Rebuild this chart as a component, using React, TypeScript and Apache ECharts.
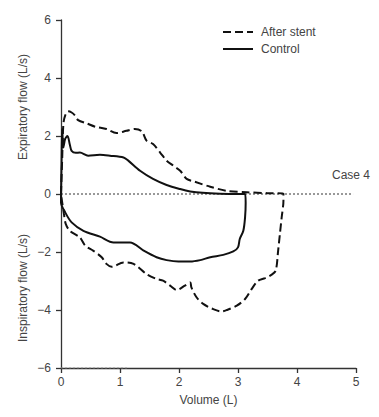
import React, { useEffect, useRef } from "react";
import * as echarts from "echarts";

const xTicks = [0, 1, 2, 3, 4, 5];
const yTicks = [-6, -4, -2, 0, 2, 4, 6];

// Control loop (solid): [volume L, flow L/s]
const controlVolume = [0, 0.01, 0.02, 0.04, 0.07, 0.11, 0.15, 0.18, 0.25, 0.32, 0.46, 0.66, 0.83, 1.06, 1.14, 1.34, 1.56, 1.79, 2.02, 2.19, 2.4, 2.7, 3.0, 3.12, 3.13, 3.12, 3.09, 3.03, 3.0, 2.92, 2.75, 2.53, 2.36, 2.19, 1.99, 1.79, 1.62, 1.4, 1.17, 0.89, 0.66, 0.38, 0.18, 0.07, 0.0, 0];
const controlFlow = [0, 1.2, 2.25, 1.6, 1.9, 2.0, 1.7, 1.49, 1.42, 1.43, 1.32, 1.35, 1.32, 1.26, 1.15, 0.8, 0.52, 0.31, 0.17, 0.09, 0.04, 0.01, 0.0, 0.0, -0.3, -0.8, -1.27, -1.55, -1.84, -1.98, -2.1, -2.18, -2.28, -2.33, -2.33, -2.28, -2.18, -1.95, -1.67, -1.67, -1.47, -1.27, -0.98, -0.63, -0.29, 0];

// After stent loop (dashed)
const stentVolume = [0, 0.02, 0.04, 0.07, 0.12, 0.18, 0.24, 0.29, 0.44, 0.58, 0.77, 0.94, 1.11, 1.25, 1.37, 1.45, 1.56, 1.68, 1.79, 1.9, 2.02, 2.13, 2.27, 2.53, 2.81, 3.15, 3.5, 3.77, 3.77, 3.74, 3.71, 3.68, 3.64, 3.57, 3.46, 3.34, 3.23, 3.12, 2.98, 2.81, 2.72, 2.58, 2.41, 2.3, 2.21, 2.19, 2.1, 1.96, 1.85, 1.73, 1.62, 1.45, 1.23, 1.06, 0.86, 0.77, 0.69, 0.55, 0.41, 0.32, 0.15, 0.08, 0.05, 0.02, 0];
const stentFlow = [0, 1.2, 2.41, 2.7, 2.85, 2.81, 2.7, 2.55, 2.43, 2.32, 2.24, 2.1, 2.18, 2.24, 2.16, 1.84, 1.72, 1.43, 1.15, 0.98, 0.8, 0.52, 0.42, 0.25, 0.11, 0.06, 0.03, 0.02, -0.23, -0.81, -1.38, -1.96, -2.64, -2.78, -2.9, -2.99, -3.28, -3.62, -3.85, -4.0, -4.05, -3.97, -3.79, -3.57, -3.22, -3.05, -3.16, -3.31, -3.16, -2.99, -2.93, -2.76, -2.41, -2.36, -2.51, -2.41, -2.18, -1.96, -1.78, -1.5, -1.27, -1.03, -0.69, -0.29, 0];

const baselineX = [0, 4.95];
const baselineY = [0, 0];
const bottomFragX = [0, 1.12];
const bottomFragY = [-6, -6];

const pairs = (xs: number[], ys: number[]) => xs.map((x, i) => [x, ys[i]]);

const FONT = "Liberation Sans, Arial, sans-serif";
const TXT = "#444";

export default function App() {
  const ref = useRef<HTMLDivElement>(null);
  useEffect(() => {
    if (!ref.current) return;
    const chart = echarts.init(ref.current, null, { renderer: "svg" });
    chart.setOption({
      animation: false,
      backgroundColor: "#fff",
      grid: { left: 61, top: 20, right: 23, bottom: 49 },
      xAxis: {
        type: "value",
        min: 0,
        max: 5,
        interval: 1,
        name: "Volume (L)",
        nameLocation: "middle",
        nameGap: 26,
        nameTextStyle: { fontFamily: FONT, fontSize: 12, color: TXT },
        axisLine: { onZero: false, lineStyle: { color: "#333", width: 1.3 } },
        axisTick: { show: true, inside: false, length: 5, lineStyle: { color: "#333", width: 1.3 } },
        axisLabel: { margin: 8, fontFamily: FONT, fontSize: 12, color: TXT, formatter: (v: number) => (xTicks.includes(v) ? String(v) : "") },
        splitLine: { show: false },
      },
      yAxis: {
        type: "value",
        min: -6,
        max: 6,
        interval: 2,
        axisLine: { show: true, onZero: false, lineStyle: { color: "#333", width: 1.3 } },
        axisTick: { show: true, inside: false, length: 5, lineStyle: { color: "#333", width: 1.3 } },
        axisLabel: {
          margin: 10,
          fontFamily: FONT,
          fontSize: 12,
          color: TXT,
          formatter: (v: number) => (yTicks.includes(v) ? String(v).replace("-", "\u2212") : ""),
        },
        splitLine: { show: false },
      },
      series: [
        {
          type: "line",
          data: pairs(baselineX, baselineY),
          symbol: "none",
          lineStyle: { color: "#333", width: 1, type: [2, 2] },
          silent: true,
        },
        {
          type: "line",
          data: pairs(bottomFragX, bottomFragY),
          symbol: "none",
          lineStyle: { color: "#999", width: 1, type: [2, 2] },
          silent: true,
        },
        {
          name: "Control",
          type: "line",
          data: pairs(controlVolume, controlFlow),
          symbol: "none",
          smooth: 0.3,
          lineStyle: { color: "#111", width: 2 },
        },
        {
          name: "After stent",
          type: "line",
          data: pairs(stentVolume, stentFlow),
          symbol: "none",
          smooth: 0.3,
          lineStyle: { color: "#111", width: 2, type: [8, 4] },
        },
      ],
      graphic: [
        { type: "line", shape: { x1: 223, y1: 32, x2: 253, y2: 32 }, style: { stroke: "#111", lineWidth: 2, lineDash: [8, 4] } },
        { type: "text", x: 261, y: 32, style: { text: "After stent", font: `12px ${FONT}`, fill: TXT, textVerticalAlign: "middle" } },
        { type: "line", shape: { x1: 223, y1: 49, x2: 253, y2: 49 }, style: { stroke: "#111", lineWidth: 2 } },
        { type: "text", x: 261, y: 49, style: { text: "Control", font: `12px ${FONT}`, fill: TXT, textVerticalAlign: "middle" } },
        { type: "text", x: 370, y: 175, style: { text: "Case 4", font: `12px ${FONT}`, fill: TXT, textAlign: "right", textVerticalAlign: "middle" } },
        { type: "text", x: 23, y: 107, rotation: Math.PI / 2, style: { text: "Expiratory flow (L/s)", font: `12px ${FONT}`, fill: TXT, textAlign: "center", textVerticalAlign: "middle" } },
        { type: "text", x: 23, y: 288, rotation: Math.PI / 2, style: { text: "Inspiratory flow (L/s)", font: `12px ${FONT}`, fill: TXT, textAlign: "center", textVerticalAlign: "middle" } },
      ],
    });
    return () => chart.dispose();
  }, []);
  return <div ref={ref} style={{ position: "fixed", left: 0, top: 0, width: 379, height: 417 }} />;
}
